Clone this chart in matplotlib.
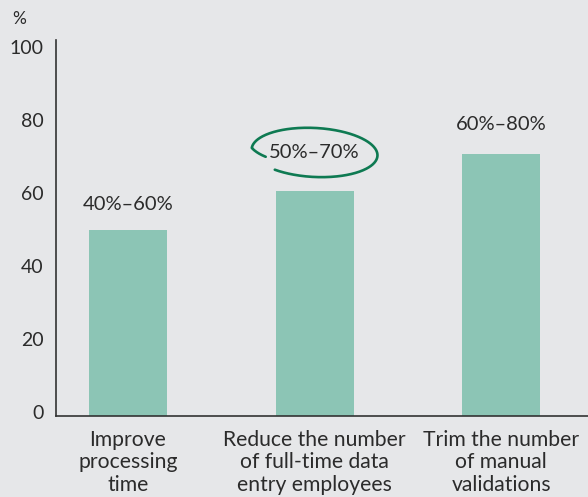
import numpy as np
import matplotlib
matplotlib.use("Agg")
import matplotlib.pyplot as plt
from matplotlib import transforms

categories = ["Improve\nprocessing\ntime",
              "Reduce the number\nof full-time data\nentry employees",
              "Trim the number\nof manual\nvalidations"]
values = [50, 60.5, 70.7]
range_labels = ["40%–60%", "50%–70%", "60%–80%"]
yticks = [0, 20, 40, 60, 80, 100]

BG = "#e6e7e9"
BAR = "#8cc5b5"
TXT = "#2b2b2b"
GREEN = "#0e7a52"

plt.rcParams['font.family'] = ['Lato', 'DejaVu Sans']

fig = plt.figure(figsize=(5.88, 4.97), dpi=100, facecolor=BG)
ax = fig.add_axes([56/588, 81/497, 1 - 56/588, (416-40)/497])
ax.set_facecolor(BG)

ymin, ymax = -1.1, 102
ax.set_ylim(ymin, ymax)
ax.set_xlim(-0.386, 2.466)
x = np.arange(len(values))
ax.bar(x, [v - ymin for v in values], bottom=ymin, width=0.418, color=BAR)

for s in ["top", "right"]:
    ax.spines[s].set_visible(False)
for s in ["left", "bottom"]:
    ax.spines[s].set_color("#333333")
    ax.spines[s].set_linewidth(1.2)

ax.set_yticks(yticks)
ax.set_yticklabels([str(t) for t in yticks])
ax.tick_params(axis='y', length=0, pad=9, labelsize=14, labelcolor=TXT)
ax.set_xticks(x)
ax.set_xticklabels(categories, linespacing=1.15)
ax.tick_params(axis='x', length=0, pad=10, labelsize=15.2, labelcolor=TXT)

offsets_pt = [18, 28, 21.6]
for xi, v, lab, off in zip(x, values, range_labels, offsets_pt):
    ax.annotate(lab, (xi, v), xytext=(0, off), textcoords='offset points',
                ha='center', va='center', fontsize=14.5, color=TXT)

# hand-drawn ellipse around the highlighted label
hi = 1
base = transforms.ScaledTranslation(x[hi], values[hi], ax.transData)
trans = fig.dpi_scale_trans + transforms.ScaledTranslation(0, 28/72, fig.dpi_scale_trans) + base
n = 400
th = np.radians(np.linspace(232, 200 + 360, n))
frac = np.linspace(0, 1, n)
r = np.where(frac > 0.93, 1 - (frac - 0.93) / 0.07 * 0.18, 1.0)
a, b = 0.63, 0.245
tilt = np.radians(-3)
ex = r * a * np.cos(th)
ey = r * b * np.sin(th)
xx = ex * np.cos(tilt) - ey * np.sin(tilt)
yy = ex * np.sin(tilt) + ey * np.cos(tilt)
ax.plot(xx, yy, transform=trans, color=GREEN, lw=1.9, solid_capstyle='round', clip_on=False)

fig.text(12/588, 1 - 19/497, "%", fontsize=12.5, color=TXT, va='center', ha='left')

fig.savefig("out.png", dpi=100, facecolor=BG)
